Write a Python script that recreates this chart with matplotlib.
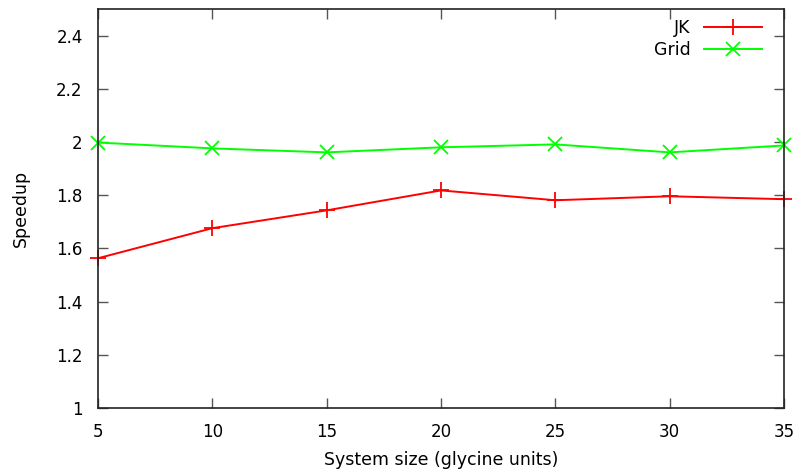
import matplotlib
matplotlib.use("Agg")
import matplotlib.pyplot as plt

sizes = [5, 10, 15, 20, 25, 30, 35]
jk = [1.563, 1.676, 1.743, 1.818, 1.781, 1.796, 1.785]
grid = [1.998, 1.976, 1.961, 1.980, 1.991, 1.961, 1.987]
yticks = [1, 1.2, 1.4, 1.6, 1.8, 2, 2.2, 2.4]
ylabels = ["1", "1.2", "1.4", "1.6", "1.8", "2", "2.2", "2.4"]

plt.rcParams['font.family'] = ['DejaVu Sans']
fig = plt.figure(figsize=(7.99, 4.72), dpi=100)
ax = fig.add_axes([98/799, 1 - 408/472, (784-98)/799, (408-9)/472])

ax.plot(sizes, jk, color='#ff0000', marker='+', markersize=11, markeredgewidth=1.3, linewidth=1.4, label='JK', clip_on=False)
ax.plot(sizes, grid, color='#00ff00', marker='x', markersize=10, markeredgewidth=1.3, linewidth=1.4, label='Grid', clip_on=False)

ax.set_xlim(5, 35)
ax.set_ylim(1, 2.5)
ax.set_xticks(sizes)
ax.set_yticks(yticks)
ax.set_yticklabels(ylabels)
ax.tick_params(direction='in', top=True, right=True, labelsize=12, length=7, width=1, color='#555555')
ax.tick_params(axis='x', pad=11)
ax.tick_params(axis='y', pad=11)
for s in ax.spines.values():
    s.set_color('#222222')
    s.set_linewidth(1.2)
ax.set_xlabel('System size (glycine units)', fontsize=12.5, labelpad=7)
ax.set_ylabel('Speedup', fontsize=12.5, labelpad=19)

leg = ax.legend(loc='upper right', bbox_to_anchor=(0.985, 1.005), frameon=False, fontsize=12.5, markerfirst=False,
                handlelength=3.3, handletextpad=0.8, borderaxespad=0.3, labelspacing=0.2)
fig.savefig('out.png', dpi=100)
